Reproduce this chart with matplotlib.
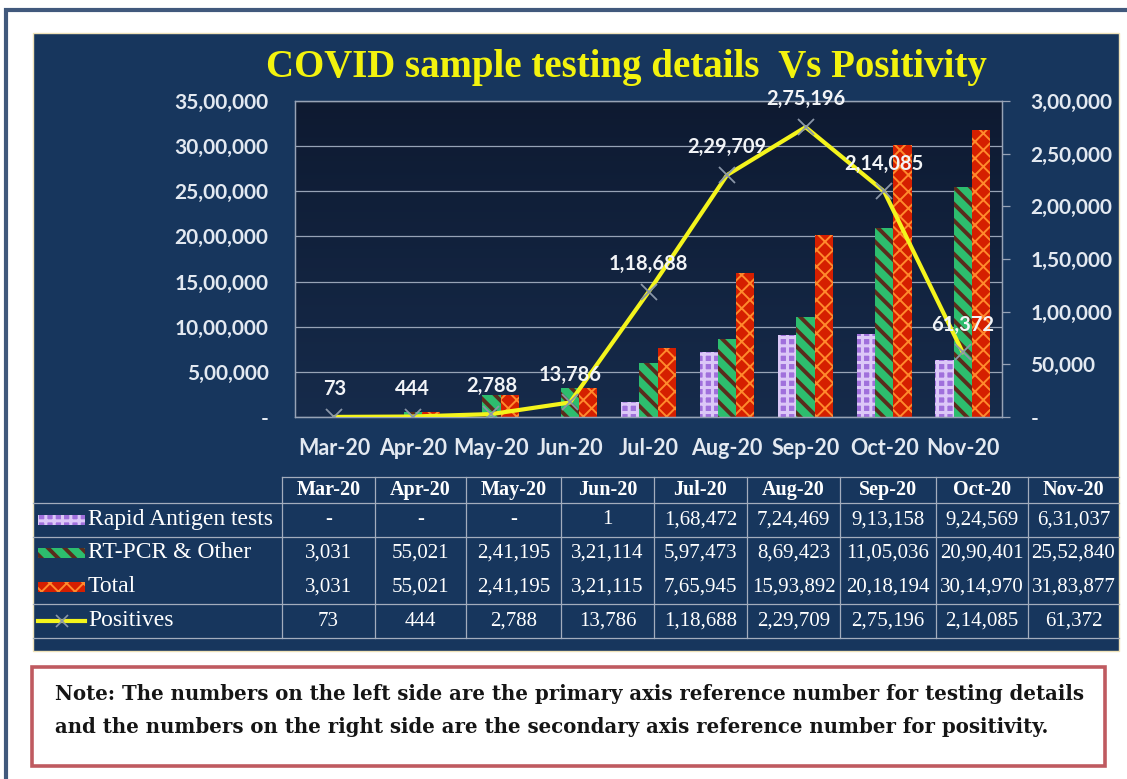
import matplotlib
matplotlib.use('Agg')
import matplotlib.pyplot as plt
import numpy as np
from matplotlib.patches import Rectangle
from matplotlib.lines import Line2D
from matplotlib.colors import LinearSegmentedColormap
from matplotlib.ticker import FuncFormatter

# ---------------- data ----------------
months = ['Mar-20', 'Apr-20', 'May-20', 'Jun-20', 'Jul-20', 'Aug-20', 'Sep-20', 'Oct-20', 'Nov-20']
rapid = [0, 0, 0, 1, 168472, 724469, 913158, 924569, 631037]
rtpcr = [3031, 55021, 241195, 321114, 597473, 869423, 1105036, 2090401, 2552840]
total = [3031, 55021, 241195, 321115, 765945, 1593892, 2018194, 3014970, 3183877]
positives = [73, 444, 2788, 13786, 118688, 229709, 275196, 214085, 61372]
series_names = ['Rapid Antigen tests', 'RT-PCR & Other', 'Total', 'Positives']
left_ticks = [0, 500000, 1000000, 1500000, 2000000, 2500000, 3000000, 3500000]
right_ticks = [0, 50000, 100000, 150000, 200000, 250000, 300000]
title = 'COVID sample testing details  Vs Positivity'
note_lines = ['Note: The numbers on the left side are the primary axis reference number for testing details',
              'and the numbers on the right side are the secondary axis reference number for positivity.']


def indian(n):
    n = int(round(n))
    if n == 0:
        return '-'
    s = str(n)
    if len(s) <= 3:
        return s
    last3, rest = s[-3:], s[:-3]
    groups = []
    while len(rest) > 2:
        groups.insert(0, rest[-2:])
        rest = rest[:-2]
    if rest:
        groups.insert(0, rest)
    return ','.join(groups) + ',' + last3


W, H = 1127, 779
fig = plt.figure(figsize=(W / 100, H / 100), dpi=100)
fig.patch.set_facecolor('white')


def fx(x):
    return x / W


def fy(y):
    return 1 - y / H


def frect(x0, y0, x1, y1, **kw):
    r = Rectangle((fx(x0), fy(y1)), (x1 - x0) / W, (y1 - y0) / H, transform=fig.transFigure, **kw)
    fig.add_artist(r)
    return r


def fline(x0, y0, x1, y1, **kw):
    l = Line2D([fx(x0), fx(x1)], [fy(y0), fy(y1)], transform=fig.transFigure, **kw)
    fig.add_artist(l)
    return l


# outer frame + panel (behind the axes)
frect(6, 9.5, 1140, 800, fill=False, edgecolor='#41597c', lw=3, zorder=-5)
frect(33, 33, 1119, 651, facecolor='#17365d', edgecolor='#efe2b8', lw=1, zorder=-4)

SANS = 'Lato'
SERIF = 'Liberation Serif'
TICKC = '#e3e9f1'
GRIDC = '#97a3b6'

# ---------------- chart ----------------
ax = fig.add_axes([fx(295), fy(417), (1002 - 295) / W, (417 - 101) / H])
ax.set_zorder(2)
cm = LinearSegmentedColormap.from_list('g', ['#0e1a31', '#162b4b'])
ax.imshow(np.linspace(0, 1, 256).reshape(-1, 1), extent=[0, 1, 0, 1], transform=ax.transAxes,
          aspect='auto', cmap=cm, zorder=0, origin='upper')

x = np.arange(len(months))
bw = 0.232
styles = [
    dict(values=rapid, face='#a070dc', hatchc='#dcc8f7', hatch='++', hlw=2.2),
    dict(values=rtpcr, face='#2dbd6e', hatchc='#5a2c1c', hatch='\\\\', hlw=2.8),
    dict(values=total, face='#d51f00', hatchc='#ff8a2c', hatch='xx', hlw=1.4),
]
for i, st in enumerate(styles):
    plt.rcParams['hatch.linewidth'] = st['hlw']
    bars = ax.bar(x + (i - 1) * bw, st['values'], width=bw, facecolor=st['face'],
                  edgecolor=st['hatchc'], hatch=st['hatch'], linewidth=0, zorder=2)
    for p in bars:
        if hasattr(p, 'set_hatch_linewidth'):
            p.set_hatch_linewidth(st['hlw'])

ax.set_xlim(-0.5, len(months) - 0.5)
ax.set_ylim(0, 3500000)
ax.set_yticks(left_ticks)
ax.yaxis.set_major_formatter(FuncFormatter(lambda v, p: indian(v)))
ax.set_xticks(x)
ax.set_xticklabels(months)
ax.grid(axis='y', color=GRIDC, lw=0.9)
ax.set_axisbelow(True)
ax.tick_params(axis='y', length=0, pad=19, labelsize=15, labelcolor=TICKC)
ax.tick_params(axis='x', length=0, pad=15, labelsize=15.5, labelcolor=TICKC)
for lab in ax.get_xticklabels() + ax.get_yticklabels():
    lab.set_fontfamily(SANS)
    lab.set_fontweight('bold')
for s in ax.spines.values():
    s.set_color(GRIDC)
    s.set_linewidth(0.9)

ax2 = ax.twinx()
ax2.set_zorder(3)
ax2.set_ylim(0, 300000)
ax2.set_yticks(right_ticks)
ax2.yaxis.set_major_formatter(FuncFormatter(lambda v, p: indian(v)))
ax2.plot(x, positives, color='#f4f41c', lw=3, marker='x', markersize=11, mew=1.3,
         mec='#8a96a8', zorder=3, solid_capstyle='round')
for xi, v in zip(x, positives):
    ax2.annotate(indian(v), (xi, v), xytext=(0, 20), textcoords='offset points', ha='center',
                 va='center', color='#f2f4f7', fontsize=14.5, fontfamily=SANS, fontweight='bold', zorder=4)
ax2.tick_params(axis='y', length=6, width=0.9, color=GRIDC, pad=14.5, labelsize=15, labelcolor=TICKC)
for lab in ax2.get_yticklabels():
    lab.set_fontfamily(SANS)
    lab.set_fontweight('bold')
for s in ax2.spines.values():
    s.set_color(GRIDC)
    s.set_linewidth(0.9)

# title
fig.text(fx(626), fy(68), title, ha='center', va='center', color='#f3f30e',
         fontsize=28, fontfamily=SERIF, fontweight='bold')

# ---------------- data table ----------------
LINEC = '#a3adbd'
col_edges = [282, 375, 466, 561, 654, 747, 840, 936, 1028, 1119]
row_y = [520, 553, 587, 621]
fline(282, 477, 1119, 477, color=LINEC, lw=0.9)
for yy in [503, 537, 604, 638]:
    fline(33, yy, 1119, yy, color=LINEC, lw=0.9)
for xe in col_edges[:-1]:
    fline(xe, 477, xe, 638, color=LINEC, lw=0.9)

centers = [(a + b) / 2 for a, b in zip(col_edges[:-1], col_edges[1:])]
for c, m in zip(centers, months):
    fig.text(fx(c), fy(490), m, ha='center', va='center', color='white',
             fontsize=14.5, fontfamily=SERIF, fontweight='bold')

table_rows = [rapid, rtpcr, total, positives]
for ry, vals in zip(row_y, table_rows):
    for c, v in zip(centers, vals):
        fig.text(fx(c), fy(ry), indian(v), ha='center', va='center', color='white',
                 fontsize=15, fontfamily=SERIF)

# legend keys in the table
for ry, name, st in zip(row_y[:3], series_names[:3], styles):
    plt.rcParams['hatch.linewidth'] = st['hlw']
    r = frect(38, ry - 5, 85, ry + 5, facecolor=st['face'], edgecolor=st['hatchc'],
              hatch=st['hatch'], lw=0)
    if hasattr(r, 'set_hatch_linewidth'):
        r.set_hatch_linewidth(st['hlw'])
    fig.text(fx(88), fy(ry), name, ha='left', va='center', color='white',
             fontsize=17, fontfamily=SERIF)
fline(38, row_y[3], 85, row_y[3], color='#f4f41c', lw=3)
fig.add_artist(Line2D([fx(61.5)], [fy(row_y[3])], transform=fig.transFigure, marker='x',
                      markersize=8, mew=1.2, mec='#8a96a8', linestyle='none'))
fig.text(fx(88), fy(row_y[3]), series_names[3], ha='left', va='center', color='white',
         fontsize=17, fontfamily=SERIF)

# ---------------- note box ----------------
frect(32, 667, 1105, 766, facecolor='white', edgecolor='#bf5a60', lw=2.6)
fig.text(fx(55), fy(694), note_lines[0], ha='left', va='center', color='#151515',
         fontsize=14.2, fontfamily='DejaVu Serif', fontweight='bold')
fig.text(fx(55), fy(727), note_lines[1], ha='left', va='center', color='#151515',
         fontsize=14.2, fontfamily='DejaVu Serif', fontweight='bold')

fig.savefig('out.png', dpi=100, facecolor='white')
